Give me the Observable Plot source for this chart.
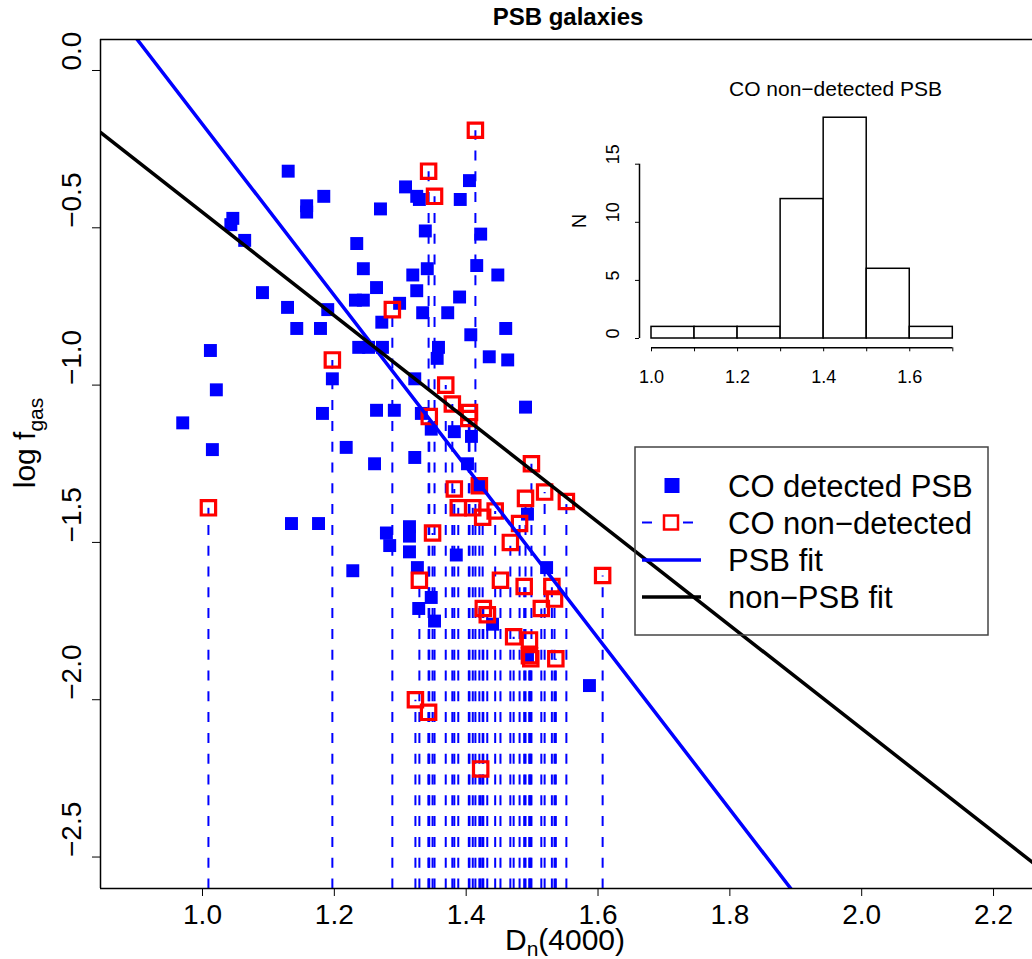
<!DOCTYPE html>
<html><head><meta charset="utf-8">
<script src="https://cdn.jsdelivr.net/npm/d3@7"></script>
<script src="https://cdn.jsdelivr.net/npm/@observablehq/plot@0.6"></script>
<style>
body{margin:0;background:#fff;}
#wrap{position:relative;width:1032px;height:959px;overflow:hidden;font-family:"Liberation Sans",Arial,Helvetica,sans-serif;}
#wrap svg{position:absolute;}
</style></head><body><div id="wrap"></div>
<script>
// CO detected PSB galaxies (filled blue squares)
const detX = [1.130,1.184,1.158,1.158,1.046,1.043,1.064,1.234,1.244,1.091,1.129,1.190,1.232,1.244,1.143,1.179,1.012,1.237,1.252,
  1.405,1.308,1.325,1.329,1.391,1.270,1.338,1.422,1.341,1.416,1.448,1.319,1.264,1.325,1.390,1.299,1.334,1.372,1.272,1.407,1.460,
  1.273,1.358,1.435,1.463,1.356,1.197,1.021,0.970,1.182,1.264,1.291,1.015,1.218,1.261,1.135,1.176,1.279,1.284,1.228,
  1.322,1.332,1.490,1.347,1.382,1.408,1.322,1.402,1.420,1.493,1.314,1.314,1.314,1.385,1.522,1.326,1.347,1.328,1.352,1.440,1.587,1.493];
const detY = [-0.32,-0.40,-0.43,-0.45,-0.47,-0.49,-0.54,-0.55,-0.63,-0.706,-0.753,-0.76,-0.73,-0.73,-0.82,-0.82,-0.89,-0.88,-0.88,
  -0.35,-0.37,-0.40,-0.41,-0.41,-0.44,-0.51,-0.52,-0.63,-0.62,-0.65,-0.65,-0.69,-0.70,-0.72,-0.74,-0.77,-0.77,-0.80,-0.84,-0.82,
  -0.88,-0.88,-0.91,-0.92,-0.915,-0.98,-1.015,-1.12,-1.09,-1.08,-1.08,-1.205,-1.198,-1.25,-1.44,-1.44,-1.47,-1.51,-1.59,
  -0.98,-1.09,-1.07,-1.14,-1.148,-1.163,-1.23,-1.25,-1.32,-1.41,-1.45,-1.48,-1.53,-1.54,-1.58,-1.58,-1.675,-1.71,-1.75,-1.76,-1.955,-1.865];
// CO non-detected PSB galaxies (upper limits, open red squares)
const ndX = [1.414,1.343,1.352,1.288,1.197,1.009,1.369,1.379,1.405,1.404,1.344,1.499,1.382,1.420,1.519,1.490,1.552,1.388,1.410,1.444,
  1.425,1.481,1.349,1.467,1.329,1.452,1.488,1.530,1.607,1.534,1.514,1.426,1.432,1.472,1.496,1.496,1.498,1.536,1.323,1.343,1.422];
const ndY = [-0.19,-0.32,-0.40,-0.76,-0.92,-1.39,-1.00,-1.06,-1.087,-1.106,-1.10,-1.25,-1.33,-1.32,-1.34,-1.36,-1.37,-1.39,-1.39,-1.40,
  -1.42,-1.44,-1.47,-1.50,-1.62,-1.62,-1.64,-1.64,-1.605,-1.68,-1.71,-1.71,-1.73,-1.80,-1.81,-1.86,-1.87,-1.87,-2.00,-2.04,-2.22];
// linear fits: log fgas = intercept + slope * Dn4000
const fitPSB = {intercept: 2.551, slope: -2.722};
const fitNonPSB = {intercept: 1.190, slope: -1.641};
const xTicks = [1.0,1.2,1.4,1.6,1.8,2.0,2.2];
const yTicks = [0.0,-0.5,-1.0,-1.5,-2.0,-2.5];
// inset histogram of non-detections
const histBreaks = [1.0,1.1,1.2,1.3,1.4,1.5,1.6,1.7];
const histCounts = [1,1,1,12,19,6,1];
const histYTicks = [0,5,10,15];
const histXLabels = [1.0,1.2,1.4,1.6];
const legendLabels = ["CO detected PSB","CO non\u2212detected","PSB fit","non\u2212PSB fit"];

const FONT = '"Liberation Sans",Arial,Helvetica,sans-serif';
const BLUE = "#0000ff", RED = "#ff0000";
const xDomain = [0.84527, 2.2591], yDomain = [-2.6, 0.0985];
const det = detX.map((x,i)=>({x, y: detY[i]}));
const nd = ndX.map((x,i)=>({x, y: ndY[i]}));
const linePts = f => xDomain.map(x => ({x, y: f.intercept + f.slope*x}));
const fmt = d3.format(".1f");

const main = Plot.plot({
  width:1032, height:959, marginLeft:100, marginRight:0, marginTop:39, marginBottom:71,
  x:{domain:xDomain}, y:{domain:yDomain},
  style:{fontFamily:FONT, fontSize:"28px", color:"black", background:"white"},
  marks:[
    Plot.dot(det,{x:"x",y:"y",symbol:"square",r:7.3,fill:BLUE,stroke:"none"}),
    Plot.link(nd,{x1:"x",x2:"x",y1:()=>yDomain[0],y2:"y",stroke:BLUE,strokeWidth:2,strokeDasharray:"10,10.8"}),
    Plot.dot(nd,{x:"x",y:"y",symbol:"square",r:8.1,fill:"none",stroke:RED,strokeWidth:3.2}),
    Plot.line(linePts(fitPSB),{x:"x",y:"y",stroke:BLUE,strokeWidth:3.5,clip:true}),
    Plot.line(linePts(fitNonPSB),{x:"x",y:"y",stroke:"black",strokeWidth:3.5,clip:true}),
    Plot.ruleX([xDomain[0]],{stroke:"black",strokeWidth:1.5}),
    Plot.ruleY(yDomain,{stroke:"black",strokeWidth:1.5}),
    Plot.axisX({ticks:xTicks,tickSize:8,tickPadding:8,tickFormat:fmt,label:null,fontSize:28}),
    Plot.axisY({ticks:yTicks,tickSize:8,tickFormat:()=>"",label:null}),
    Plot.text(yTicks,{y:d=>d,text:d=>fmt(d),frameAnchor:"left",rotate:-90,dx:-20,lineAnchor:"bottom",fontSize:28})
  ]
});
document.getElementById("wrap").appendChild(main);
main.style.left="0px"; main.style.top="0px";

const s = d3.select(main);
// title
s.append("text").attr("x",568).attr("y",25).attr("text-anchor","middle").attr("font-weight","bold")
  .attr("font-size",24).attr("font-family",FONT).attr("fill","black").text("PSB galaxies");
// x label
const xl = s.append("text").attr("x",565).attr("y",950).attr("text-anchor","middle").attr("font-size",30).attr("font-family",FONT).attr("fill","black");
xl.append("tspan").text("D");
xl.append("tspan").attr("font-size",21).attr("dy",6).text("n");
xl.append("tspan").attr("dy",-6).text("(4000)");
// y label
const yl = s.append("text").attr("transform","translate(35,443) rotate(-90)").attr("text-anchor","middle").attr("font-size",30).attr("font-family",FONT).attr("fill","black");
yl.append("tspan").text("log f");
yl.append("tspan").attr("font-size",21).attr("dy",8).text("gas");
// legend
const lg = s.append("g").attr("font-family",FONT).attr("text-anchor","start");
lg.append("rect").attr("x",635).attr("y",447).attr("width",353).attr("height",188).attr("fill","none").attr("stroke","#444").attr("stroke-width",1.5);
lg.append("rect").attr("x",664.5).attr("y",478).attr("width",15).attr("height",15).attr("fill",BLUE);
lg.append("line").attr("x1",642).attr("x2",652).attr("y1",522.5).attr("y2",522.5).attr("stroke",BLUE).attr("stroke-width",2);
lg.append("line").attr("x1",683).attr("x2",693).attr("y1",522.5).attr("y2",522.5).attr("stroke",BLUE).attr("stroke-width",2);
lg.append("rect").attr("x",664).attr("y",515.5).attr("width",14).attr("height",14).attr("fill","none").attr("stroke",RED).attr("stroke-width",2.5);
lg.append("line").attr("x1",642).attr("x2",701).attr("y1",560).attr("y2",560).attr("stroke",BLUE).attr("stroke-width",3.5);
lg.append("line").attr("x1",642).attr("x2",701).attr("y1",597).attr("y2",597).attr("stroke","black").attr("stroke-width",3.5);
[497,534,571,608].forEach((by,i)=>{
  lg.append("text").attr("x",728).attr("y",by).attr("text-anchor","start").attr("font-size",31).attr("fill","black").text(legendLabels[i]);
});

// inset histogram
const hist = histCounts.map((n,i)=>({x1:histBreaks[i], x2:histBreaks[i+1], n}));
const inset = Plot.plot({
  width:440, height:340, marginLeft:79, marginRight:35.6, marginTop:48, marginBottom:52.7,
  x:{domain:[histBreaks[0], histBreaks[histBreaks.length-1]], range:[91,392.3]},
  y:{domain:[0,15], range:[278,103.7]},
  style:{fontFamily:FONT, fontSize:"18px", color:"black", background:"transparent"},
  marks:[
    Plot.rect(hist,{x1:"x1",x2:"x2",y1:()=>0,y2:"n",fill:"white",stroke:"black",strokeWidth:1.5}),
    Plot.ruleY([0],{x1:()=>histBreaks[0],x2:()=>histBreaks[histBreaks.length-1],dy:9.3,stroke:"black",strokeWidth:1.5}),
    Plot.axisX({ticks:histBreaks,tickSize:4,tickPadding:18,tickFormat:d=>histXLabels.includes(d)?d.toFixed(1):"",label:null}),
    Plot.ruleX([histBreaks[0]],{y1:()=>histYTicks[0],y2:()=>histYTicks[histYTicks.length-1],dx:-12,stroke:"black",strokeWidth:1.5}),
    Plot.axisY({ticks:histYTicks,tickSize:4,tickFormat:()=>"",label:null}),
    Plot.text(histYTicks,{y:d=>d,text:d=>String(d),frameAnchor:"left",rotate:-90,dx:-21,lineAnchor:"bottom",fontSize:18}),
    Plot.text(["N"],{frameAnchor:"left",rotate:-90,dx:-54,lineAnchor:"bottom",fontSize:20}),
    Plot.text(["CO non\u2212detected PSB"],{frameAnchor:"top",dx:33.3,dy:-13,lineAnchor:"bottom",fontSize:21})
  ]
});
document.getElementById("wrap").appendChild(inset);
inset.style.left="560px"; inset.style.top="60px";
</script></body></html>
